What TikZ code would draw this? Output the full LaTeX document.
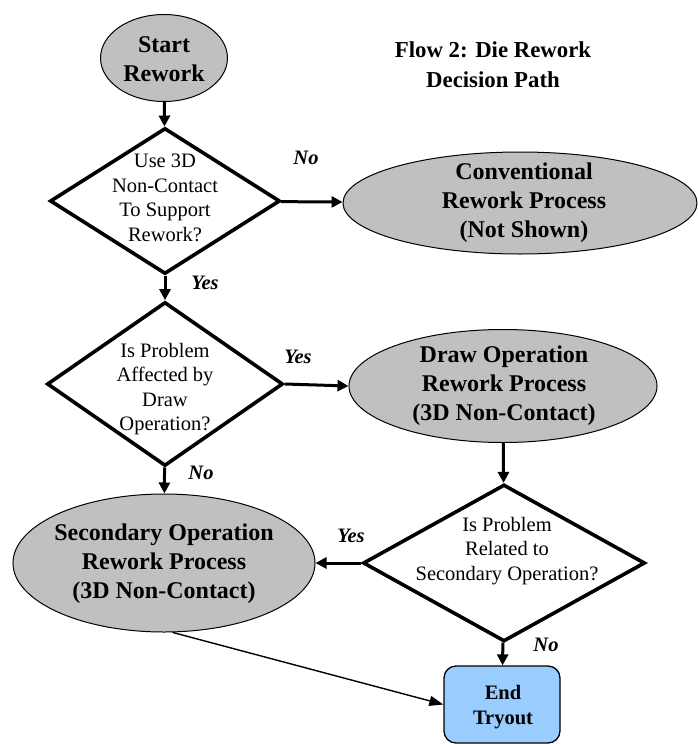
\documentclass[tikz,border=0pt]{standalone}
\usepackage{fontspec}
\setmainfont{Liberation Serif}
\usetikzlibrary{shapes.geometric,arrows.meta}
\definecolor{procgray}{RGB}{192,192,192}
\definecolor{endblue}{RGB}{153,204,255}

\begin{document}
\begin{tikzpicture}[x=1pt,y=-1pt,
  proc/.style={ellipse,draw=black,line width=1pt,fill=procgray,inner sep=0pt},
  decision/.style={diamond,draw=black,line width=3.6pt,inner sep=0pt},
  terminal/.style={rectangle,rounded corners=12pt,draw=black,line width=1.3pt,fill=endblue,inner sep=0pt},
  boldtxt/.style={font=\fontsize{24}{29}\selectfont\bfseries,align=center},
  asktxt/.style={font=\fontsize{20.5}{24.5}\selectfont,align=center},
  answer/.style={font=\fontsize{20.5}{24}\selectfont\bfseries\itshape},
  flow/.style={line width=3pt,-{Triangle[length=11pt,width=11pt]}},
  thinflow/.style={line width=1.4pt,-{Triangle[length=14pt,width=10pt]}}
]
\useasboundingbox (0,0) rectangle (697,744);

% title
\node[font=\fontsize{22.8}{30}\selectfont\bfseries,align=center] (title) at (493,65) {Flow 2: Die Rework\\Decision Path};

% shapes
\node[proc,minimum width=127pt,minimum height=87pt] (start) at (164,58) {};
\node[decision,minimum width=230pt,minimum height=146pt] (d1) at (165,201) {};
\node[proc,minimum width=354pt,minimum height=102pt] (conv) at (520,203) {};
\node[decision,minimum width=236pt,minimum height=164pt] (d2) at (165,384) {};
\node[proc,minimum width=308pt,minimum height=113pt] (draw) at (503,386) {};
\node[proc,minimum width=302pt,minimum height=138pt] (sec) at (164,563) {};
\node[decision,minimum width=282pt,minimum height=157pt] (d3) at (504,563) {};
\node[terminal,minimum width=116pt,minimum height=77pt] (end) at (502,704.5) {};

% texts
\node[boldtxt] (tstart) at (164,59) {Start\\Rework};
\node[asktxt] (td1) at (165,198) {Use 3D\\Non-Contact\\To Support\\Rework?};
\node[boldtxt] (tconv) at (524,203) {Conventional\\Rework Process\\(Not Shown)};
\node[asktxt] (td2) at (165,389) {Is Problem\\Affected by\\Draw\\Operation?};
\node[boldtxt] (tdraw) at (504,386) {Draw Operation\\Rework Process\\(3D Non-Contact)};
\node[boldtxt] (tsec) at (164,564) {Secondary Operation\\Rework Process\\(3D Non-Contact)};
\node[asktxt] (td3) at (507,551) {Is Problem\\Related to\\Secondary Operation?};
\node[font=\fontsize{20.5}{25}\selectfont\bfseries,align=center] (tend) at (503,707) {End\\Tryout};

% connectors
\draw[flow] (start) -- (d1);
\draw[flow] (d1) -- (conv);
\draw[flow] (d1) -- (d2);
\draw[flow] (d2.east) -- (draw.west);
\draw[flow] (d2) -- (sec);
\draw[flow] (draw) -- (d3);
\draw[flow] (d3) -- (sec);
\draw[flow] (d3) -- (end);
\draw[thinflow] (sec.-83) -- (end.west);

% branch answers
\node[answer] (no1) at (306,158) {No};
\node[answer] (yes1) at (205,283) {Yes};
\node[answer] (yes2) at (298,357) {Yes};
\node[answer] (no2) at (201,473) {No};
\node[answer] (yes3) at (351,536) {Yes};
\node[answer] (no3) at (546,645) {No};
\end{tikzpicture}
\end{document}
